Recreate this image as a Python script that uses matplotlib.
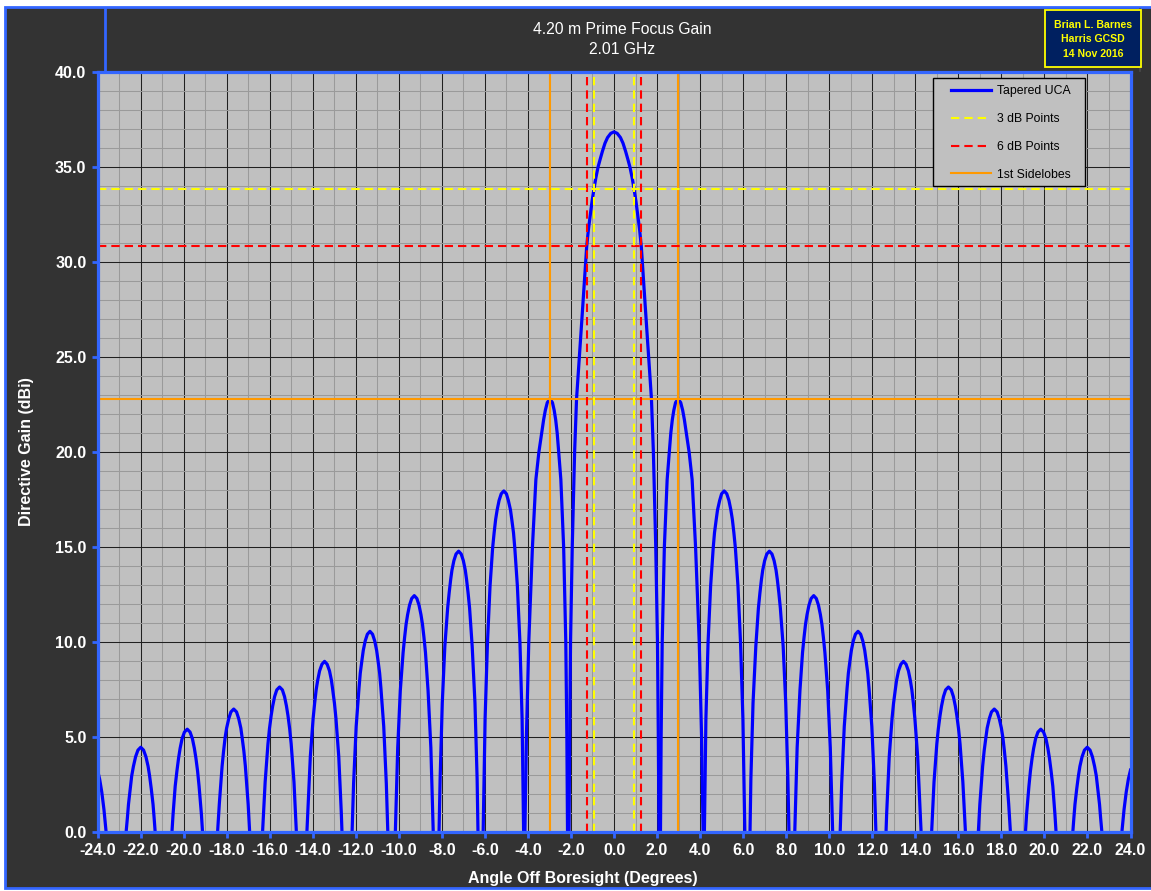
import matplotlib
matplotlib.use('Agg')
import matplotlib.pyplot as plt
from matplotlib.patches import Rectangle
from matplotlib.lines import Line2D

plt.rcParams['font.family'] = ['Liberation Sans', 'DejaVu Sans']

W, H = 1151, 891

# ---------------- data ----------------
title_line1 = "4.20 m Prime Focus Gain"
title_line2 = "2.01 GHz"
info_lines = ["Brian L. Barnes", "Harris GCSD", "14 Nov 2016"]

x_ticks = [-24, -22, -20, -18, -16, -14, -12, -10, -8, -6, -4, -2, 0, 2, 4, 6, 8, 10, 12, 14, 16, 18, 20, 22, 24]
y_ticks = [0, 5, 10, 15, 20, 25, 30, 35, 40]

# main lobe (both sides)
main_angle = [-2.09, -2.06, -2.02, -1.94, -1.83, -1.74, -1.61, -1.45, -1.27, -1.19, -1.10, -1.02, -0.93, -0.84,
              -0.74, -0.64, -0.54, -0.42, -0.30, -0.15, 0.00, 0.15, 0.30, 0.42, 0.54, 0.64, 0.74, 0.84, 0.93,
              1.02, 1.10, 1.19, 1.27, 1.45, 1.61, 1.74, 1.83, 1.94, 2.02, 2.06, 2.09]
main_gain = [0.0, 5.0, 10.0, 15.0, 20.0, 22.8, 25.0, 27.7, 30.8, 31.7, 32.5, 33.2, 33.85, 34.45,
             35.0, 35.42, 35.82, 36.25, 36.55, 36.77, 36.85, 36.77, 36.55, 36.25, 35.82, 35.42, 35.0, 34.45, 33.85,
             33.2, 32.5, 31.7, 30.8, 27.7, 25.0, 22.8, 20.0, 15.0, 10.0, 5.0, 0.0]

# side lobes on the positive side (pattern is symmetric about boresight)
sl1_angle = [2.16, 2.19, 2.24, 2.34, 2.47, 2.57, 2.64, 2.71, 2.78, 2.86, 2.98, 3.10, 3.19, 3.27, 3.36, 3.49,
             3.63, 3.79, 3.96, 4.07, 4.14]
sl1_gain = [0.0, 5.0, 10.0, 15.0, 18.55, 20.0, 21.0, 21.7, 22.2, 22.6, 22.8, 22.6, 22.2, 21.7, 21.0, 20.0,
            18.55, 15.0, 10.0, 5.0, 0.0]

sl2_angle = [4.20, 4.27, 4.37, 4.49, 4.61, 4.67, 4.75, 4.81, 4.91, 5.00, 5.12, 5.24, 5.34, 5.43, 5.50, 5.57,
             5.64, 5.76, 5.88, 5.99, 6.08]
sl2_gain = [0.0, 5.95, 9.95, 12.95, 14.95, 15.75, 16.45, 16.95, 17.45, 17.80, 17.95, 17.80, 17.45, 16.95, 16.45,
            15.75, 14.95, 12.95, 9.95, 5.95, 0.0]

sl3_angle = [6.32, 6.36, 6.46, 6.59, 6.71, 6.78, 6.85, 6.91, 7.00, 7.10, 7.22, 7.34, 7.44, 7.53, 7.59, 7.66,
             7.73, 7.86, 7.98, 8.08, 8.13]
sl3_gain = [0.0, 2.78, 6.78, 9.78, 11.78, 12.58, 13.28, 13.78, 14.28, 14.63, 14.78, 14.63, 14.28, 13.78, 13.28,
            12.58, 11.78, 9.78, 6.78, 2.78, 0.0]

sl4_angle = [8.40, 8.51, 8.64, 8.76, 8.83, 8.90, 8.97, 9.06, 9.16, 9.28, 9.40, 9.50, 9.59, 9.66, 9.73, 9.80,
             9.93, 10.05, 10.16]
sl4_gain = [0.0, 4.44, 7.44, 9.44, 10.24, 10.94, 11.44, 11.94, 12.29, 12.44, 12.29, 11.94, 11.44, 10.94, 10.24,
            9.44, 7.44, 4.44, 0.0]

sl5_angle = [10.51, 10.58, 10.70, 10.83, 10.89, 10.97, 11.03, 11.12, 11.22, 11.34, 11.46, 11.56, 11.65, 11.71,
             11.79, 11.85, 11.98, 12.10, 12.17]
sl5_gain = [0.0, 2.56, 5.56, 7.56, 8.36, 9.06, 9.56, 10.06, 10.41, 10.56, 10.41, 10.06, 9.56, 9.06, 8.36, 7.56,
            5.56, 2.56, 0.0]

sl6_angle = [12.64, 12.67, 12.79, 12.92, 12.99, 13.07, 13.13, 13.22, 13.33, 13.45, 13.57, 13.68, 13.77, 13.84,
             13.91, 13.98, 14.11, 14.23, 14.27]
sl6_gain = [0.0, 0.98, 3.98, 5.98, 6.78, 7.48, 7.98, 8.48, 8.83, 8.98, 8.83, 8.48, 7.98, 7.48, 6.78, 5.98,
            3.98, 0.98, 0.0]

sl7_angle = [14.76, 14.87, 15.00, 15.07, 15.15, 15.22, 15.31, 15.41, 15.54, 15.67, 15.77, 15.86, 15.93, 16.01,
             16.08, 16.21, 16.33]
sl7_gain = [0.0, 2.63, 4.63, 5.43, 6.13, 6.63, 7.13, 7.48, 7.63, 7.48, 7.13, 6.63, 6.13, 5.43, 4.63, 2.63, 0.0]

sl8_angle = [16.93, 17.00, 17.13, 17.20, 17.28, 17.34, 17.44, 17.54, 17.67, 17.80, 17.90, 18.00, 18.07, 18.14,
             18.21, 18.34, 18.42]
sl8_gain = [0.0, 1.47, 3.47, 4.27, 4.97, 5.47, 5.97, 6.32, 6.47, 6.32, 5.97, 5.47, 4.97, 4.27, 3.47, 1.47, 0.0]

sl9_angle = [19.12, 19.17, 19.28, 19.35, 19.43, 19.50, 19.59, 19.70, 19.83, 19.96, 20.07, 20.16, 20.23, 20.31,
             20.39, 20.49, 20.54]
sl9_gain = [0.0, 0.91, 2.41, 3.21, 3.91, 4.41, 4.91, 5.26, 5.41, 5.26, 4.91, 4.41, 3.91, 3.21, 2.41, 0.91, 0.0]

sl10_angle = [21.32, 21.37, 21.42, 21.50, 21.58, 21.65, 21.75, 21.86, 21.99, 22.12, 22.23, 22.33, 22.41, 22.48,
              22.56, 22.61, 22.67]
sl10_gain = [0.0, 0.76, 1.46, 2.26, 2.96, 3.46, 3.96, 4.31, 4.46, 4.31, 3.96, 3.46, 2.96, 2.26, 1.46, 0.76, 0.0]

sl11_angle = [23.60, 23.70, 23.80, 23.90, 24.00]
sl11_gain = [0.0, 1.18, 2.09, 2.78, 3.26]

side_angles = [sl1_angle, sl2_angle, sl3_angle, sl4_angle, sl5_angle, sl6_angle,
               sl7_angle, sl8_angle, sl9_angle, sl10_angle, sl11_angle]
side_gains = [sl1_gain, sl2_gain, sl3_gain, sl4_gain, sl5_gain, sl6_gain,
              sl7_gain, sl8_gain, sl9_gain, sl10_gain, sl11_gain]

# reference markers
level_3db = 33.84
level_6db = 30.84
level_sidelobe = 22.8
angles_3db = [-0.92, 0.92]
angles_6db = [-1.27, 1.27]
angles_sidelobe = [-2.98, 2.98]

legend_labels = ["Tapered UCA", "3 dB Points", "6 dB Points", "1st Sidelobes"]

# ---------------- styles ----------------
BG = '#333333'
FRAME_BLUE = '#3366FF'
CURVE_BLUE = '#0000FF'
YELLOW = '#FFFF00'
RED = '#FF0000'
ORANGE = '#FF9900'
PLOT_BG = '#C0C0C0'


def fx(px):
    return px / W


def fy(py):
    return 1 - py / H


fig = plt.figure(figsize=(W / 100, H / 100), dpi=100, facecolor='white')

# outer dark frame
fig.add_artist(Rectangle((fx(5), fy(888)), fx(1160) - fx(5), fy(7) - fy(888),
                         transform=fig.transFigure, facecolor=BG, edgecolor=FRAME_BLUE,
                         linewidth=2.0, zorder=0))
# title box edges
fig.add_artist(Line2D([fx(105), fx(105)], [fy(8), fy(71)], transform=fig.transFigure,
                      color=FRAME_BLUE, linewidth=2.0, zorder=1))
fig.add_artist(Line2D([fx(1140), fx(1140)], [fy(9), fy(71)], transform=fig.transFigure,
                      color='#4a4a4a', linewidth=1.2, zorder=1))

fig.text(fx(622), fy(30), title_line1, ha='center', va='center', color='white', fontsize=11.3)
fig.text(fx(622), fy(50), title_line2, ha='center', va='center', color='white', fontsize=11.3)

# info box
fig.add_artist(Rectangle((fx(1045), fy(67)), fx(1141) - fx(1045), fy(10) - fy(67),
                         transform=fig.transFigure, facecolor='#002060', edgecolor=YELLOW,
                         linewidth=1.3, zorder=2))
for i, line in enumerate(info_lines):
    fig.text(fx(1093), fy(25 + 14.3 * i), line, ha='center', va='center', color=YELLOW,
             fontsize=7.6, fontweight='bold', zorder=3)

# plot area
ax = fig.add_axes([fx(97.5), fy(832), (1130.5 - 97.5) / W, (832 - 72) / H])
ax.set_facecolor(PLOT_BG)
ax.set_xlim(-24, 24)
ax.set_ylim(0, 40)

ax.set_xticks(x_ticks)
ax.set_xticks(list(range(-24, 25, 1)), minor=True)
ax.set_yticks(y_ticks)
ax.set_yticks(list(range(0, 41, 1)), minor=True)
ax.set_xticklabels([f"{v:.1f}" for v in x_ticks])
ax.set_yticklabels([f"{v:.1f}" for v in y_ticks])
ax.grid(which='minor', color='#9a9a9a', linewidth=0.75, zorder=0)
ax.grid(which='major', color='#202020', linewidth=0.75, zorder=0)
ax.set_axisbelow(True)

for s in ax.spines.values():
    s.set_color(FRAME_BLUE)
    s.set_linewidth(2.3)
    s.set_zorder(6)

ax.tick_params(which='major', direction='out', color=FRAME_BLUE, width=2.0, length=4,
               labelcolor='white', labelsize=11.5, pad=4)
ax.tick_params(which='minor', length=0)
for lab in ax.get_xticklabels() + ax.get_yticklabels():
    lab.set_fontweight('bold')

# antenna pattern
curve_kw = dict(color=CURVE_BLUE, linewidth=2.3, zorder=3, solid_joinstyle='round')
ax.plot(main_angle, main_gain, **curve_kw)
for a, g in zip(side_angles, side_gains):
    ax.plot(a, g, **curve_kw)
    ax.plot([-v for v in a], g, **curve_kw)

# reference lines
ax.axhline(level_sidelobe, color=ORANGE, linewidth=1.5, zorder=4)
for a in angles_sidelobe:
    ax.axvline(a, color=ORANGE, linewidth=1.5, zorder=4)
ax.axhline(level_6db, color=RED, linewidth=1.5, dashes=(4, 2.4), zorder=4)
for a in angles_6db:
    ax.axvline(a, color=RED, linewidth=1.5, dashes=(4, 2.4), zorder=4)
ax.axhline(level_3db, color=YELLOW, linewidth=1.5, dashes=(4, 2.4), zorder=4)
for a in angles_3db:
    ax.axvline(a, color=YELLOW, linewidth=1.5, dashes=(4, 2.4), zorder=4)

# axis labels
fig.text(fx(583), fy(878), "Angle Off Boresight (Degrees)", ha='center', va='center',
         color='white', fontsize=11.5, fontweight='bold')
fig.text(fx(27), fy(452), "Directive Gain (dBi)", ha='center', va='center', rotation=90,
         color='white', fontsize=11.5, fontweight='bold')

# legend
fig.add_artist(Rectangle((fx(933), fy(186)), fx(1085) - fx(933), fy(78) - fy(186),
                         transform=fig.transFigure, facecolor=PLOT_BG, edgecolor='black',
                         linewidth=1.0, zorder=7))
handles = [
    Line2D([], [], color=CURVE_BLUE, linewidth=2.3),
    Line2D([], [], color=YELLOW, linewidth=1.5, dashes=(4, 2.4)),
    Line2D([], [], color=RED, linewidth=1.5, dashes=(4, 2.4)),
    Line2D([], [], color=ORANGE, linewidth=1.5),
]
leg = fig.legend(handles, legend_labels, loc='upper left', bbox_to_anchor=(fx(951), fy(85)),
                 bbox_transform=fig.transFigure, frameon=False, borderpad=0, borderaxespad=0,
                 handlelength=3.3, handletextpad=0.45, labelspacing=1.3, fontsize=8.8)
leg.set_zorder(8)
for t in leg.get_texts():
    t.set_color('black')

fig.savefig('out.png', dpi=100, facecolor='white')
